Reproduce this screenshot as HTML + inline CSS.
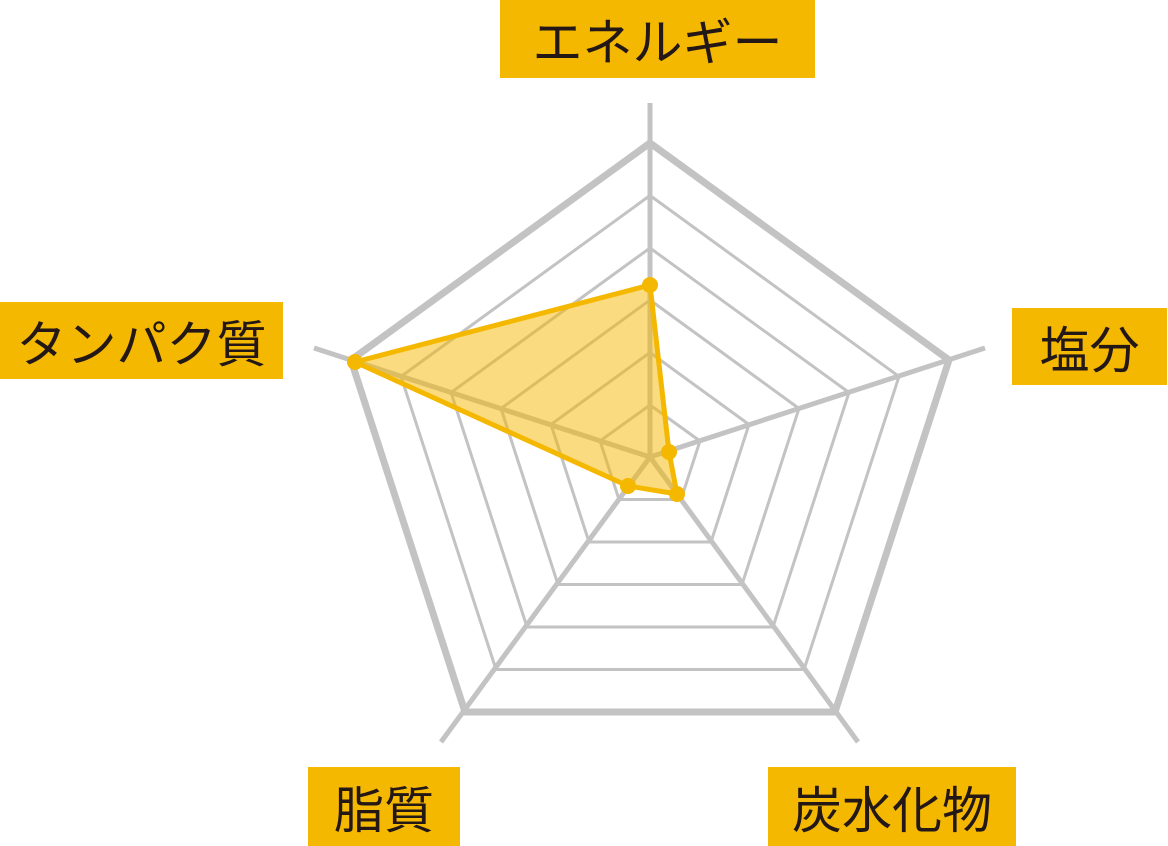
<!DOCTYPE html>
<html><head><meta charset="utf-8"><style>
html,body{margin:0;padding:0;background:#fff;}
body{width:1168px;height:846px;position:relative;overflow:hidden;}
.l{position:absolute;background:#f5b800;color:#231815;font-family:"Liberation Sans","Noto Sans CJK JP",sans-serif;font-size:50px;display:flex;align-items:center;justify-content:center;}
</style></head><body>
<svg width="1168" height="846" style="position:absolute;left:0;top:0">
<g stroke="#c3c3c3" fill="none" stroke-linejoin="miter">
<line x1="650" y1="457" x2="650" y2="103" stroke-width="5"/>
<line x1="650" y1="457" x2="985" y2="348" stroke-width="5"/>
<line x1="650" y1="457" x2="858" y2="742" stroke-width="5"/>
<line x1="650" y1="457" x2="441" y2="742" stroke-width="5"/>
<line x1="650" y1="457" x2="314" y2="348" stroke-width="5"/>
<polygon points="650,143 949,360 835,712 465,712 351,360" stroke-width="7"/>
<polygon points="650,195.5 899,376.5 804,669.5 496,669.5 401,376.5" stroke-width="3"/>
<polygon points="650,248 849,392.5 773,627 527,627 451,392.5" stroke-width="3"/>
<polygon points="650,300 799,408.5 742,584.5 558,584.5 501,408.5" stroke-width="3"/>
<polygon points="650,352.5 749,424.5 711,542 589,542 551,424.5" stroke-width="3"/>
<polygon points="650,405 700,441 681,499.5 619,499.5 600,441" stroke-width="3"/>
</g>
<polygon points="650,285 669,452 677,494 628,486 355,362" fill="rgba(245,184,0,0.5)" stroke="#f5b800" stroke-width="5" stroke-linejoin="round"/>
<g fill="#f5b800">
<circle cx="650" cy="285" r="8"/><circle cx="669" cy="452" r="8"/><circle cx="677" cy="494" r="8"/><circle cx="628" cy="486" r="8"/><circle cx="355" cy="362" r="8"/>
</g>
</svg>
<div class="l" style="left:500px;top:0;width:315px;height:78px">エネルギー</div>
<div class="l" style="left:1012px;top:308px;width:155px;height:77px">塩分</div>
<div class="l" style="left:768px;top:767px;width:248px;height:79px">炭水化物</div>
<div class="l" style="left:308px;top:767px;width:152px;height:79px">脂質</div>
<div class="l" style="left:0;top:302px;width:283px;height:77px">タンパク質</div>
</body></html>
